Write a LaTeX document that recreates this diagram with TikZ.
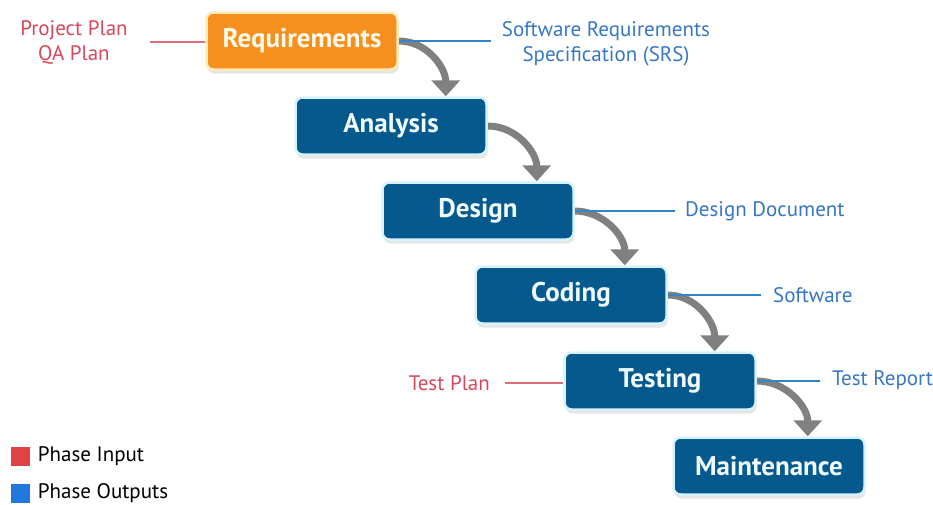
\documentclass[tikz,border=0pt]{standalone}
\usepackage{fontspec}
\setmainfont{PT Sans}
\usetikzlibrary{arrows.meta,shadows,backgrounds,positioning}

\definecolor{phaseblue}{HTML}{05598C}
\definecolor{phaseedge}{HTML}{D6F2FC}
\definecolor{reqorange}{HTML}{F5901E}
\definecolor{reqedge}{HTML}{FFEBB8}
\definecolor{inred}{HTML}{D9475A}
\definecolor{outblue}{HTML}{3577C6}
\definecolor{flowgray}{HTML}{808080}
\definecolor{inkeyred}{HTML}{DE4444}
\definecolor{outkeyblue}{HTML}{2177DC}

\tikzset{
	phase/.style={rounded corners=7pt, minimum width=191pt, minimum height=57pt,
		fill=phaseblue, draw=phaseedge, line width=2.5pt, text=phaseedge!40!white,
		font=\fontsize{27}{30}\selectfont\bfseries,
		drop shadow={shadow xshift=1pt, shadow yshift=-4pt, opacity=0.2}},
	note/.style={font=\fontsize{21}{25}\selectfont, align=center, inner sep=0pt},
	innote/.style={note, text=inred},
	outnote/.style={note, text=outblue},
	inlink/.style={draw=inred!80, line width=1.2pt},
	outlink/.style={draw=outblue!90!cyan, line width=1.5pt},
	flow/.style={draw=flowgray, line width=7pt, -{Triangle[width=28pt,length=16pt]}},
	keybox/.style={minimum size=19pt, inner sep=0pt},
}

\begin{document}
\begin{tikzpicture}[x=1pt, y=-1pt]
			%%%%% FRAME %%%%%
			\useasboundingbox (0, 0) rectangle (933, 504);
			
			%%%%% PHASES %%%%%
			\node[phase, fill=reqorange, draw=reqedge, text=reqedge!30!white] (req) at (302, 41) {Requirements};
			\node[phase] (ana) at (391, 126) {Analysis};
			\node[phase] (des) at (478, 211) {Design};
			\node[phase] (cod) at (571, 295) {Coding};
			\node[phase] (tst) at (660, 381) {Testing};
			\node[phase] (mnt) at (769, 466) {Maintenance};
			
			%%%%% INPUTS AND OUTPUTS %%%%%
			\node[innote] (plan) at (74, 42) {Project Plan\\QA Plan};
			\node[outnote] (srs) at (606, 44) {Software Requirements\\Specification (SRS)};
			\node[outnote, anchor=west] (desdoc) at (685, 211) {Design Document};
			\node[outnote, anchor=west] (soft) at (773, 295) {Software};
			\node[innote, anchor=east] (tplan) at (490, 383) {Test Plan};
			\node[outnote, anchor=west] (report) at (832, 380) {Test Report};
			
			\draw[inlink, shorten <=22pt] (plan.east) -- (plan.east -| req.west);
			\draw[outlink, shorten >=11pt] (req.east) -- (req.east -| srs.west);
			\draw[outlink, shorten >=10pt] (des.east) -- (des.east -| desdoc.west);
			\draw[outlink, shorten >=12pt] (cod.east) -- (cod.east -| soft.west);
			\draw[inlink, shorten <=15pt] (tplan.east) -- (tplan.east -| tst.west);
			\draw[outlink, shorten >=12pt] (tst.east) -- (tst.east -| report.west);
			
			%%%%% FLOW %%%%%
			\begin{scope}[on background layer]
				\draw[flow] (req.east) to[out=0, in=90] ([xshift=-42pt]ana.north east);
				\draw[flow] (ana.east) to[out=0, in=90] ([xshift=-38pt]des.north east);
				\draw[flow] (des.east) to[out=0, in=90] ([xshift=-43pt]cod.north east);
				\draw[flow] (cod.east) to[out=0, in=90] ([xshift=-42pt]tst.north east);
				\draw[flow] (tst.east) to[out=0, in=90] ([xshift=-58pt]mnt.north east);
			\end{scope}
			
			%%%%% LEGEND %%%%%
			\node[keybox, fill=inkeyred] (inkey) at (20, 456) {};
			\node[keybox, fill=outkeyblue] (outkey) at (20, 493) {};
			\node[note, right=8pt of inkey] (inlabel) {Phase Input};
			\node[note, right=8pt of outkey] (outlabel) {Phase Outputs};
\end{tikzpicture}
\end{document}
